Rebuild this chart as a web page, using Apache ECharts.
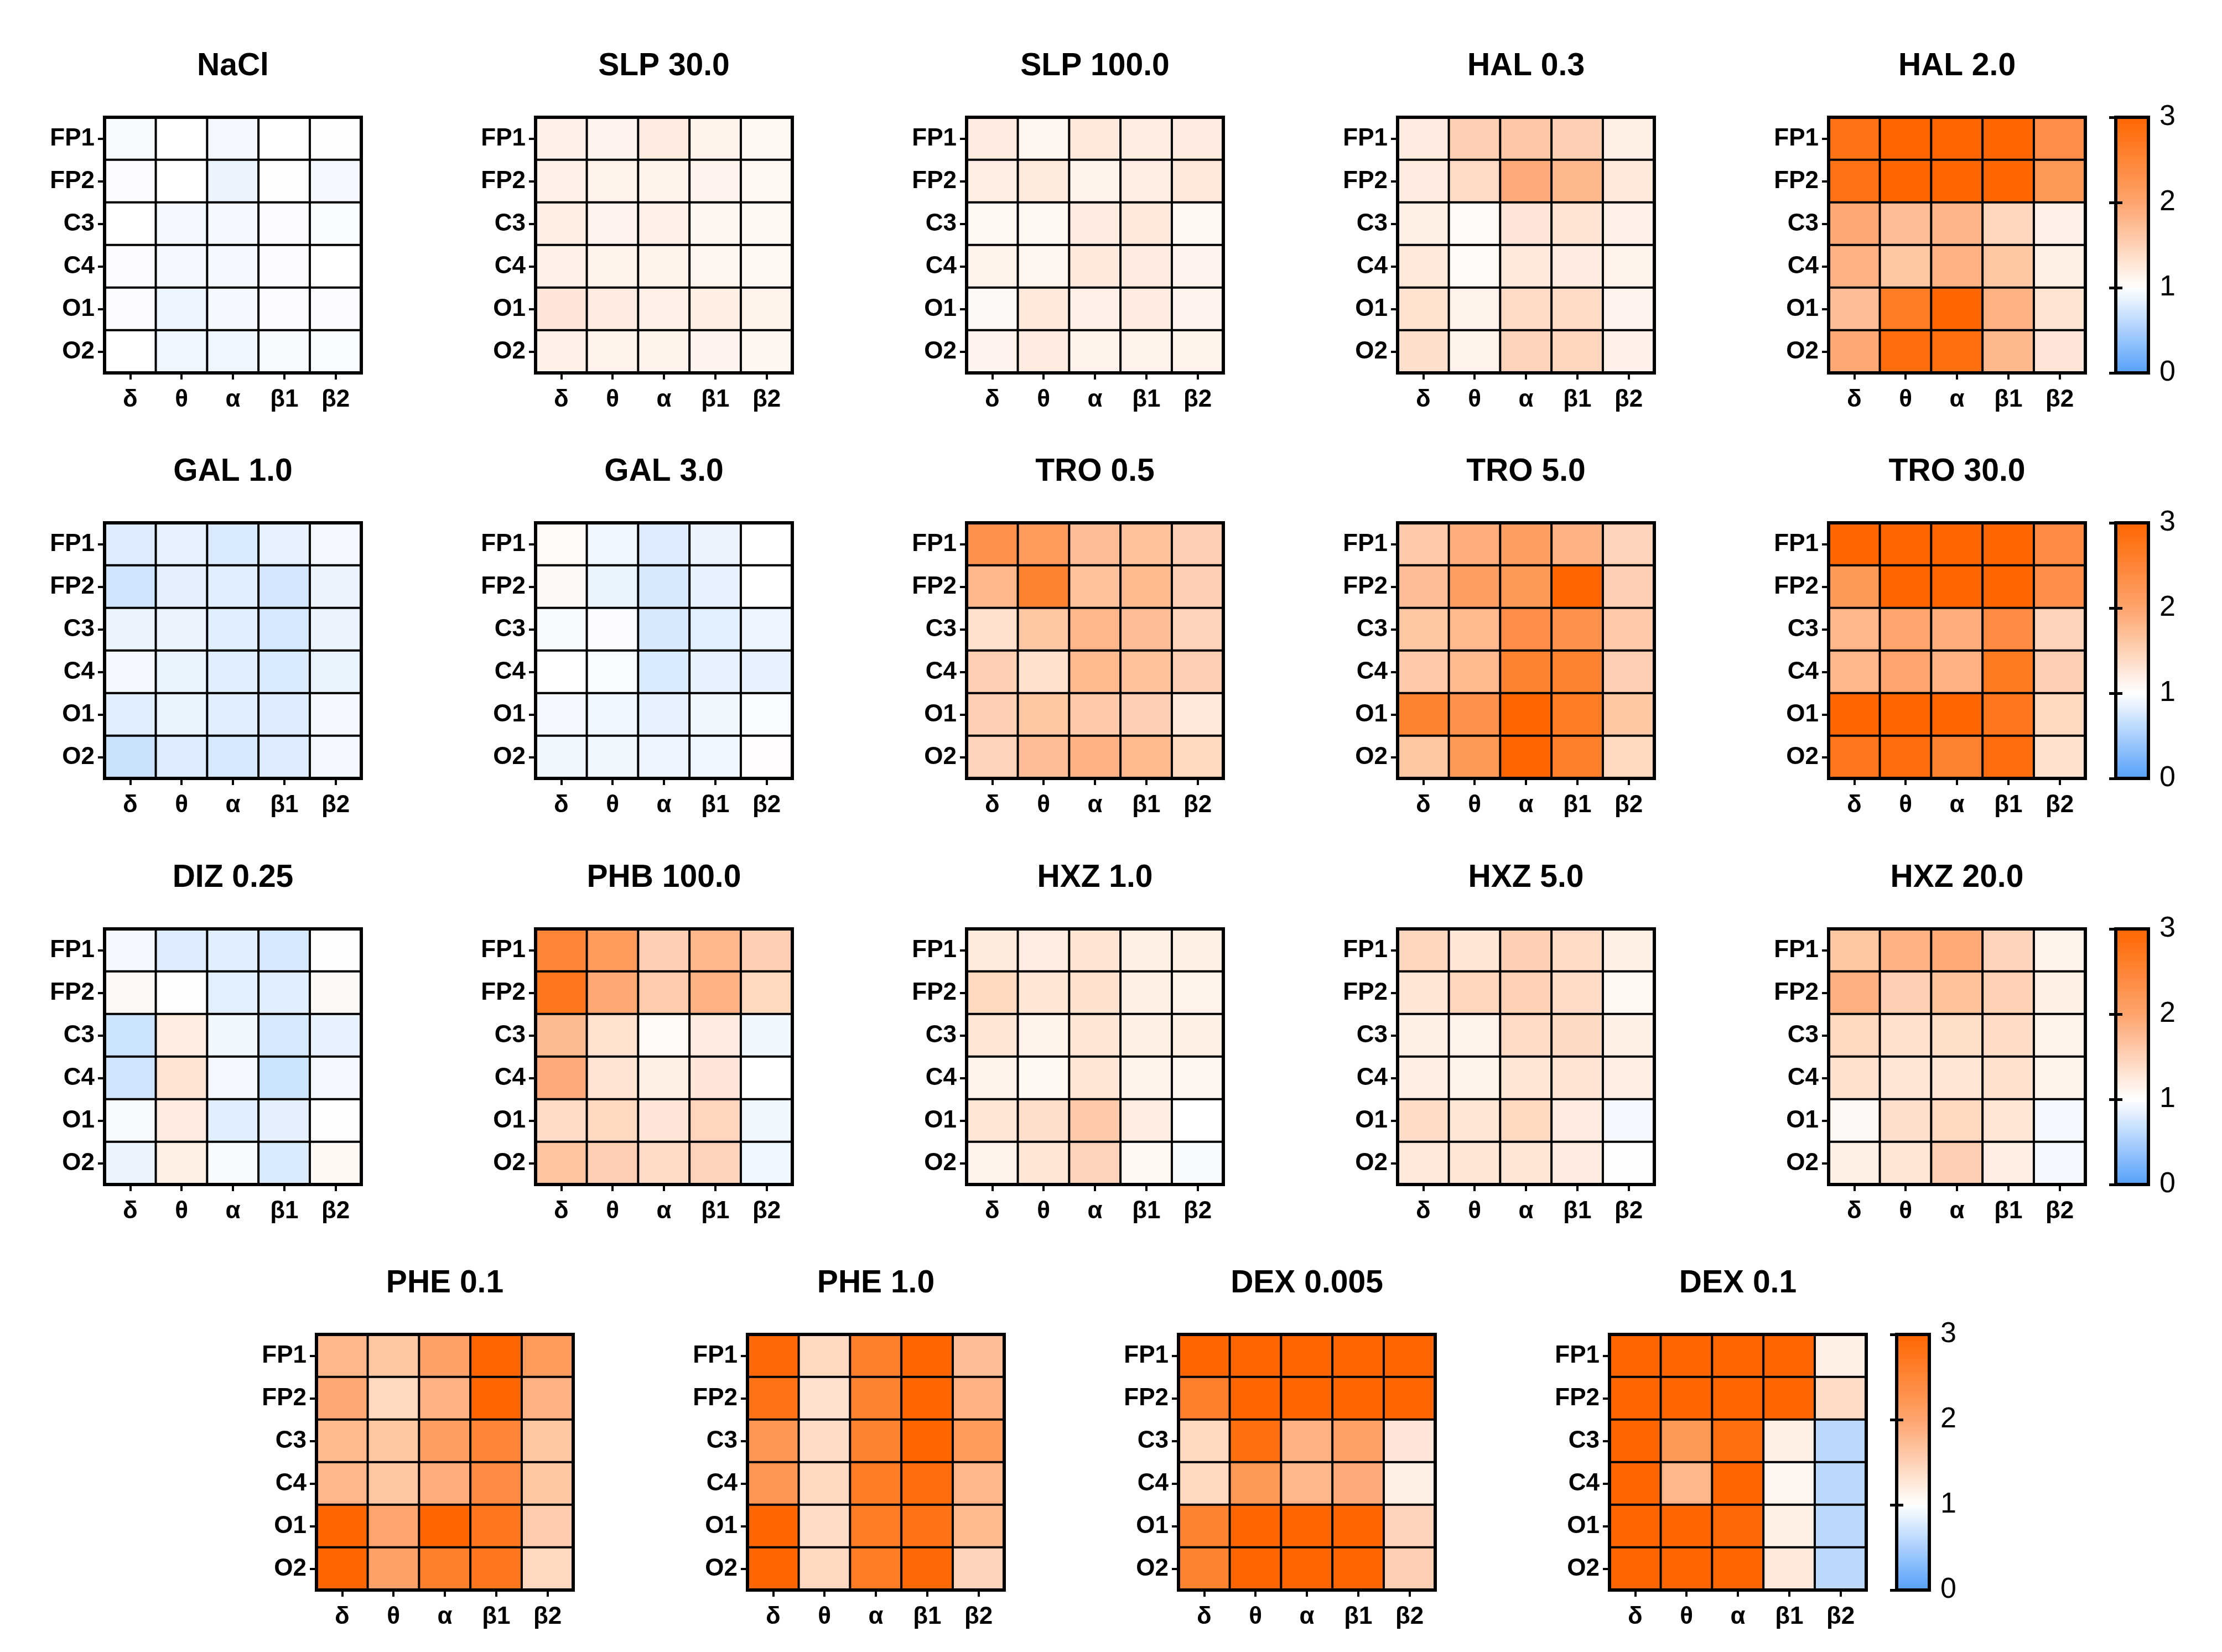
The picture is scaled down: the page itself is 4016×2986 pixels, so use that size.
<!DOCTYPE html>
<html>
<head>
<meta charset="utf-8">
<script src="https://cdn.jsdelivr.net/npm/echarts@6/dist/echarts.min.js"></script>
<style>
  html, body { margin: 0; padding: 0; background: #fff; }
  #chart { width: 4016px; height: 2986px; }
</style>
</head>
<body>
<div id="chart"></div>
<script>
// 频段 / 导联
const bands = ['δ', 'θ', 'α', 'β1', 'β2'];
const channels = ['FP1', 'FP2', 'C3', 'C4', 'O1', 'O2'];
const scaleTicks = ['0', '1', '2', '3'];
const scaleColors = ['#55a0fa', '#ffffff', '#fea46d', '#ff6600'];

// each matrix: rows = channels (FP1..O2), cols = bands (δ..β2)
const nacl = [
  [0.95, 1.00, 0.93, 1.00, 1.02],
  [0.97, 1.00, 0.88, 1.02, 0.94],
  [1.00, 0.93, 0.94, 0.97, 0.96],
  [0.97, 0.94, 0.94, 0.97, 1.00],
  [0.97, 0.89, 0.94, 0.97, 0.97],
  [1.00, 0.90, 0.90, 0.95, 0.96]
];
const slp30 = [
  [1.15, 1.12, 1.22, 1.13, 1.08],
  [1.16, 1.14, 1.13, 1.12, 1.09],
  [1.19, 1.12, 1.16, 1.10, 1.08],
  [1.16, 1.13, 1.13, 1.11, 1.08],
  [1.27, 1.21, 1.16, 1.19, 1.13],
  [1.16, 1.14, 1.13, 1.12, 1.10]
];
const slp100 = [
  [1.22, 1.10, 1.24, 1.20, 1.21],
  [1.19, 1.23, 1.13, 1.19, 1.25],
  [1.09, 1.09, 1.21, 1.24, 1.09],
  [1.14, 1.11, 1.24, 1.22, 1.12],
  [1.07, 1.24, 1.16, 1.21, 1.12],
  [1.12, 1.21, 1.14, 1.14, 1.14]
];
const hal03 = [
  [1.21, 1.52, 1.60, 1.52, 1.18],
  [1.21, 1.40, 1.92, 1.78, 1.24],
  [1.18, 1.06, 1.27, 1.30, 1.15],
  [1.26, 1.06, 1.24, 1.21, 1.14],
  [1.32, 1.14, 1.40, 1.40, 1.12],
  [1.35, 1.14, 1.48, 1.45, 1.15]
];
const hal2 = [
  [2.80, 3.00, 3.00, 3.00, 2.35],
  [2.80, 3.00, 3.00, 3.00, 2.20],
  [1.95, 1.72, 1.82, 1.45, 1.15],
  [1.85, 1.62, 1.85, 1.62, 1.18],
  [1.72, 2.65, 3.00, 1.85, 1.30],
  [1.95, 2.90, 2.85, 1.78, 1.27]
];
const gal1 = [
  [0.80, 0.85, 0.78, 0.85, 0.93],
  [0.72, 0.84, 0.82, 0.74, 0.88],
  [0.88, 0.88, 0.82, 0.76, 0.88],
  [0.93, 0.87, 0.82, 0.79, 0.87],
  [0.82, 0.87, 0.82, 0.80, 0.94],
  [0.68, 0.80, 0.76, 0.80, 0.93]
];
const gal3 = [
  [1.06, 0.91, 0.80, 0.88, 1.00],
  [1.07, 0.87, 0.77, 0.86, 1.00],
  [0.95, 0.97, 0.77, 0.83, 0.89],
  [1.00, 0.96, 0.79, 0.86, 0.86],
  [0.93, 0.90, 0.86, 0.92, 0.96],
  [0.92, 0.92, 0.89, 0.90, 1.03]
];
const tro05 = [
  [2.30, 2.15, 1.72, 1.68, 1.53],
  [1.80, 2.55, 1.68, 1.77, 1.53],
  [1.33, 1.62, 1.80, 1.72, 1.48],
  [1.53, 1.33, 1.77, 1.68, 1.53],
  [1.53, 1.62, 1.58, 1.53, 1.26],
  [1.48, 1.72, 1.85, 1.77, 1.43]
];
const tro5 = [
  [1.58, 1.90, 2.10, 1.85, 1.48],
  [1.72, 2.10, 2.20, 3.00, 1.53],
  [1.62, 1.77, 2.35, 2.30, 1.58],
  [1.58, 1.77, 2.55, 2.55, 1.53],
  [2.55, 2.30, 3.00, 2.65, 1.62],
  [1.62, 2.20, 3.00, 2.60, 1.43]
];
const tro30 = [
  [3.00, 3.00, 3.00, 3.00, 2.40],
  [2.20, 3.00, 3.00, 3.00, 2.35],
  [1.80, 2.00, 1.90, 2.40, 1.48],
  [1.80, 2.00, 1.85, 2.70, 1.53],
  [3.00, 3.00, 3.00, 2.75, 1.43],
  [2.75, 2.90, 2.55, 2.90, 1.33]
];
const diz025 = [
  [0.94, 0.80, 0.82, 0.76, 1.01],
  [1.07, 0.98, 0.83, 0.82, 1.07],
  [0.70, 1.20, 0.92, 0.76, 0.86],
  [0.72, 1.30, 0.93, 0.70, 0.93],
  [0.95, 1.22, 0.82, 0.84, 1.02],
  [0.88, 1.17, 0.95, 0.79, 1.08]
];
const phb100 = [
  [2.50, 2.15, 1.53, 1.80, 1.53],
  [2.75, 1.95, 1.57, 1.85, 1.43],
  [1.75, 1.32, 1.06, 1.22, 0.92],
  [1.92, 1.30, 1.18, 1.27, 1.00],
  [1.38, 1.43, 1.27, 1.45, 0.92],
  [1.66, 1.52, 1.38, 1.48, 0.90]
];
const hxz1 = [
  [1.23, 1.20, 1.30, 1.17, 1.17],
  [1.43, 1.28, 1.33, 1.17, 1.14],
  [1.28, 1.13, 1.28, 1.17, 1.17],
  [1.13, 1.08, 1.28, 1.13, 1.10],
  [1.28, 1.35, 1.58, 1.20, 1.00],
  [1.14, 1.28, 1.48, 1.08, 0.95]
];
const hxz5 = [
  [1.45, 1.28, 1.53, 1.40, 1.17],
  [1.28, 1.46, 1.50, 1.38, 1.08],
  [1.17, 1.14, 1.40, 1.41, 1.17],
  [1.19, 1.13, 1.28, 1.30, 1.19],
  [1.38, 1.28, 1.43, 1.22, 0.94],
  [1.25, 1.28, 1.28, 1.22, 1.02]
];
const hxz20 = [
  [1.62, 1.85, 1.93, 1.48, 1.14],
  [1.88, 1.53, 1.67, 1.50, 1.17],
  [1.43, 1.33, 1.36, 1.38, 1.14],
  [1.33, 1.28, 1.28, 1.33, 1.14],
  [1.07, 1.35, 1.43, 1.28, 0.94],
  [1.17, 1.28, 1.53, 1.19, 0.94]
];
const phe01 = [
  [1.80, 1.62, 2.05, 3.00, 2.15],
  [1.95, 1.43, 1.85, 3.00, 1.85],
  [1.77, 1.62, 2.10, 2.50, 1.62],
  [1.80, 1.62, 1.90, 2.40, 1.62],
  [3.00, 2.00, 3.00, 2.75, 1.57],
  [3.00, 2.05, 2.60, 2.75, 1.43]
];
const phe1 = [
  [2.95, 1.43, 2.60, 3.00, 1.72],
  [2.80, 1.33, 2.55, 3.00, 1.85],
  [2.25, 1.38, 2.55, 3.00, 2.15],
  [2.25, 1.43, 2.65, 2.90, 1.80],
  [3.00, 1.38, 2.65, 2.80, 1.77],
  [3.00, 1.43, 2.65, 2.95, 1.48]
];
const dex0005 = [
  [3.00, 3.00, 3.00, 3.00, 3.00],
  [2.60, 3.00, 3.00, 3.00, 3.00],
  [1.43, 2.85, 1.85, 2.05, 1.27],
  [1.43, 2.20, 1.80, 1.92, 1.18],
  [2.55, 3.00, 3.00, 3.00, 1.48],
  [2.55, 3.00, 3.00, 3.00, 1.53]
];
const dex01 = [
  [3.00, 3.00, 3.00, 3.00, 1.18],
  [3.00, 3.00, 3.00, 3.00, 1.38],
  [3.00, 2.20, 2.85, 1.17, 0.60],
  [3.00, 1.80, 3.00, 1.10, 0.60],
  [3.00, 3.00, 2.95, 1.18, 0.60],
  [3.00, 3.00, 3.00, 1.25, 0.60]
];

const titles = ['NaCl', 'SLP 30.0', 'SLP 100.0', 'HAL 0.3', 'HAL 2.0',
                'GAL 1.0', 'GAL 3.0', 'TRO 0.5', 'TRO 5.0', 'TRO 30.0',
                'DIZ 0.25', 'PHB 100.0', 'HXZ 1.0', 'HXZ 5.0', 'HXZ 20.0',
                'PHE 0.1', 'PHE 1.0', 'DEX 0.005', 'DEX 0.1'];
const matrices = [nacl, slp30, slp100, hal03, hal2,
                  gal1, gal3, tro05, tro5, tro30,
                  diz025, phb100, hxz1, hxz5, hxz20,
                  phe01, phe1, dex0005, dex01];

// 布局
const rowSizes = [5, 5, 5, 4];
const rowTops = [212, 945, 1679, 2412];
const rowLefts = [189, 189, 189, 572];
const STEP = 779, W = 464, H = 462;
const BAR_GAP = 55, BAR_W = 59;
const FONT = "'Liberation Sans', Arial, sans-serif";

function toCells(m) {
    const out = [];
    m.forEach((row, y) => row.forEach((v, x) => out.push([x, y, v])));
    return out;
}

const option = {
    animation: false,
    backgroundColor: '#ffffff',
    title: [], grid: [], xAxis: [], yAxis: [], series: [], visualMap: []
};
const bars = [];

let p = 0;
rowSizes.forEach((n, r) => {
    const top = rowTops[r];
    const idx = [];
    for (let c = 0; c < n; c++, p++) {
        const left = rowLefts[r] + c * STEP;
        option.grid.push({ left, top, width: W, height: H, show: true, borderColor: '#000', borderWidth: 6, backgroundColor: 'transparent', z: 3 });
        option.title.push({
            text: titles[p], left: left + W / 2, top: top - 120, textAlign: 'center', padding: 0,
            textStyle: { fontFamily: FONT, fontWeight: 'bold', fontSize: 57, lineHeight: 57, color: '#000' }
        });
        option.xAxis.push({
            type: 'category', gridIndex: p, data: bands, position: 'bottom',
            axisLine: { show: false },
            axisTick: { show: true, alignWithLabel: true, length: 12, lineStyle: { color: '#000', width: 4 } },
            axisLabel: { interval: 0, margin: 27, color: '#000', fontFamily: FONT, fontWeight: 'bold', fontSize: 44 },
            splitLine: { show: false }, splitArea: { show: false }
        });
        option.yAxis.push({
            type: 'category', gridIndex: p, data: channels, inverse: true,
            axisLine: { show: false },
            axisTick: { show: true, alignWithLabel: true, length: 12, lineStyle: { color: '#000', width: 4 } },
            axisLabel: { interval: 0, margin: 18, color: '#000', fontFamily: FONT, fontWeight: 'bold', fontSize: 44 },
            splitLine: { show: false }, splitArea: { show: false }
        });
        option.series.push({
            type: 'heatmap', xAxisIndex: p, yAxisIndex: p, data: toCells(matrices[p]),
            itemStyle: { borderColor: '#000', borderWidth: 4 },
            emphasis: { disabled: true }
        });
        idx.push(p);
    }
    bars.push({ left: rowLefts[r] + (n - 1) * STEP + W + BAR_GAP, top, series: idx });
});

// 色条
bars.forEach((b, k) => {
    const g = p + k;
    option.visualMap.push({
        type: 'continuous', min: 0, max: 3, seriesIndex: b.series,
        left: b.left, top: b.top, itemWidth: BAR_W, itemHeight: H, padding: 0,
        calculable: false, hoverLink: false, realtime: false,
        inRange: { color: scaleColors }
    });
    option.grid.push({ left: b.left, top: b.top, width: BAR_W, height: H, show: true, borderColor: '#000', borderWidth: 6, backgroundColor: 'transparent', z: 10 });
    option.xAxis.push({ type: 'value', gridIndex: g, show: false });
    const tickStyle = { show: true, inside: true, length: 12, lineStyle: { color: '#000', width: 5 } };
    option.yAxis.push({
        type: 'value', gridIndex: g, min: 0, max: 3, interval: 1, position: 'right', z: 10,
        axisLine: { show: false }, axisTick: tickStyle, splitLine: { show: false },
        axisLabel: { margin: 20, color: '#000', fontFamily: FONT, fontSize: 52, formatter: v => scaleTicks[v] }
    });
    option.yAxis.push({
        type: 'value', gridIndex: g, min: 0, max: 3, interval: 1, position: 'left', z: 10,
        axisLine: { show: false }, axisTick: tickStyle, splitLine: { show: false },
        axisLabel: { show: false }
    });
});

const chart = echarts.init(document.getElementById('chart'), null, { renderer: 'canvas' });
chart.setOption(option);
</script>
</body>
</html>
